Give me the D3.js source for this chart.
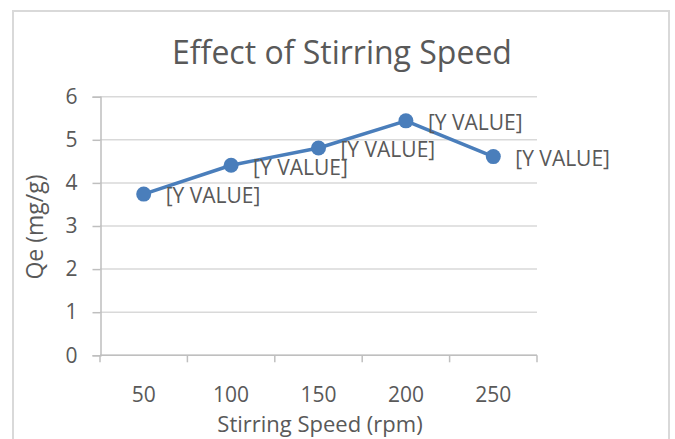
<!DOCTYPE html>
<html>
<head>
<meta charset="utf-8">
<script src="https://cdn.jsdelivr.net/npm/d3@7"></script>
<style>
  body { margin: 0; background: #fff; }
  text { font-family: "Open Sans", sans-serif; fill: #595959; }
</style>
</head>
<body>
<svg id="chart" width="675" height="439"></svg>
<script>
// data
var speeds = ["50", "100", "150", "200", "250"];
var qe = [3.74, 4.41, 4.81, 5.44, 4.61];
var yTicks = [0, 1, 2, 3, 4, 5, 6];
var pointLabel = "[Y VALUE]";

var svg = d3.select("#chart");

// chart frame
svg.append("rect")
  .attr("x", 13).attr("y", 11)
  .attr("width", 656).attr("height", 440)
  .attr("fill", "#fff")
  .attr("stroke", "#d9d9d9")
  .attr("stroke-width", 2);

var x = d3.scaleBand().domain(speeds).range([100, 537]).padding(0);
var y = d3.scaleLinear().domain([0, 6]).range([355.3, 96.7]);

// gridlines
svg.append("g")
  .selectAll("line")
  .data(yTicks)
  .enter().append("line")
  .attr("x1", 100).attr("x2", 537)
  .attr("y1", function(d) { return y(d); })
  .attr("y2", function(d) { return y(d); })
  .attr("stroke", "#d9d9d9")
  .attr("stroke-width", 1.5);

// y axis
var yAxis = svg.append("g")
  .attr("transform", "translate(100.5,0)")
  .call(d3.axisLeft(y).tickValues(yTicks).tickFormat(d3.format("d")).tickSize(8).tickPadding(15));
yAxis.select(".domain").attr("stroke", "#bfbfbf").attr("stroke-width", 1.5);
yAxis.selectAll(".tick line").attr("stroke", "#bfbfbf").attr("stroke-width", 1.5);
yAxis.selectAll(".tick text")
  .style("font-family", "Open Sans")
  .style("font-size", "21px")
  .attr("fill", "#595959");

// x axis, ticks on category boundaries
var bounds = speeds.map(function(s) { return x(s); }).concat([x.range()[1]]);
var xAxisG = svg.append("g");
xAxisG.append("line")
  .attr("x1", 100).attr("x2", 537)
  .attr("y1", y(0)).attr("y2", y(0))
  .attr("stroke", "#bfbfbf").attr("stroke-width", 1.5);
xAxisG.selectAll(".xt")
  .data(bounds)
  .enter().append("line")
  .attr("class", "xt")
  .attr("x1", function(d) { return d; })
  .attr("x2", function(d) { return d; })
  .attr("y1", y(0)).attr("y2", y(0) + 7)
  .attr("stroke", "#bfbfbf").attr("stroke-width", 1.5);
xAxisG.selectAll(".xl")
  .data(speeds)
  .enter().append("text")
  .attr("class", "xl")
  .attr("x", function(d) { return x(d) + x.bandwidth() / 2; })
  .attr("y", 402)
  .attr("text-anchor", "middle")
  .style("font-size", "21px")
  .text(function(d) { return d; });

// titles
svg.append("text")
  .attr("x", 342).attr("y", 64)
  .attr("text-anchor", "middle")
  .style("font-size", "32px")
  .text("Effect of Stirring Speed");

svg.append("text")
  .attr("x", 320).attr("y", 432)
  .attr("text-anchor", "middle")
  .style("font-size", "22px")
  .text("Stirring Speed (rpm)");

svg.append("text")
  .attr("transform", "translate(43,227) rotate(-90)")
  .attr("text-anchor", "middle")
  .style("font-size", "23px")
  .text("Qe (mg/g)");

// series
var pts = speeds.map(function(s, i) { return { s: s, v: qe[i] }; });
var line = d3.line()
  .x(function(d) { return x(d.s) + x.bandwidth() / 2; })
  .y(function(d) { return y(d.v); });

svg.append("path")
  .datum(pts)
  .attr("d", line)
  .attr("fill", "none")
  .attr("stroke", "#4a7ebb")
  .attr("stroke-width", 3.5)
  .attr("stroke-linejoin", "round");

svg.append("g")
  .selectAll("circle")
  .data(pts)
  .enter().append("circle")
  .attr("cx", function(d) { return x(d.s) + x.bandwidth() / 2; })
  .attr("cy", function(d) { return y(d.v); })
  .attr("r", 7.5)
  .attr("fill", "#4a7ebb");

// data labels
svg.append("g")
  .selectAll("text")
  .data(pts)
  .enter().append("text")
  .attr("x", function(d) { return x(d.s) + x.bandwidth() / 2 + 22; })
  .attr("y", function(d) { return y(d.v) + 2; })
  .attr("dy", "0.35em")
  .style("font-size", "21px")
  .attr("fill", "#404040")
  .text(pointLabel);
</script>
</body>
</html>
